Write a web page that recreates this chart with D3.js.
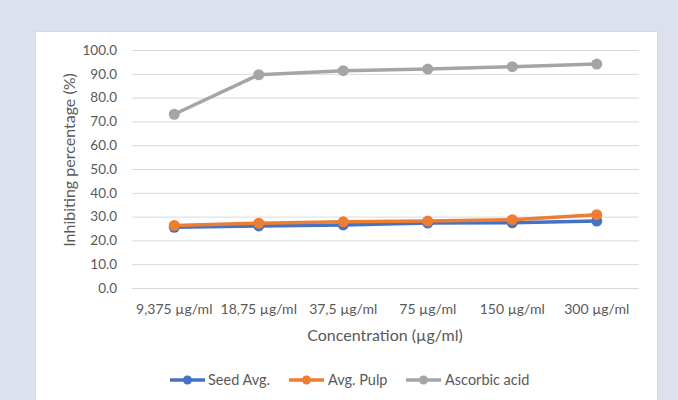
<!DOCTYPE html>
<html>
<head>
<meta charset="utf-8">
<script src="https://cdn.jsdelivr.net/npm/d3@7/dist/d3.min.js"></script>
<style>
  html, body { margin: 0; padding: 0; background: #dde1ee; }
  svg { display: block; font-family: Lato, "Open Sans", sans-serif; }
</style>
</head>
<body>
<svg id="chart" width="678" height="400"></svg>
<script>
// Concentrations tested
const categories = ["9,375 µg/ml", "18,75 µg/ml", "37,5 µg/ml", "75 µg/ml", "150 µg/ml", "300 µg/ml"];
// Inhibiting percentage per series
const seedAvg = [25.5, 26.1, 26.5, 27.3, 27.4, 28.1];
const avgPulp = [26.3, 27.2, 27.8, 28.1, 28.7, 30.8];
const ascorbicAcid = [73.0, 89.6, 91.3, 92.0, 93.0, 94.1];
const yTicks = [0, 10, 20, 30, 40, 50, 60, 70, 80, 90, 100];

const series = [
  { name: "Seed Avg.", values: seedAvg, color: "#4472c4" },
  { name: "Avg. Pulp", values: avgPulp, color: "#ed7d31" },
  { name: "Ascorbic acid", values: ascorbicAcid, color: "#a5a5a5" }
];

const svg = d3.select("#chart");

// White chart area
svg.append("rect")
  .attr("x", 35.5).attr("y", 31.5)
  .attr("width", 622).attr("height", 380)
  .attr("fill", "#ffffff")
  .attr("stroke", "#d9d9d9").attr("stroke-width", 1);

const plot = { left: 132, right: 639, top: 50, bottom: 288 };

const x = d3.scaleBand().domain(categories).range([plot.left, plot.right]);
const y = d3.scaleLinear().domain([0, 100]).range([plot.bottom, plot.top]);

// Gridlines
svg.append("g")
  .selectAll("line")
  .data(yTicks)
  .join("line")
  .attr("x1", plot.left).attr("x2", plot.right)
  .attr("y1", d => y(d) + 0.5).attr("y2", d => y(d) + 0.5)
  .attr("stroke", "#d9d9d9").attr("stroke-width", 1);

// Y axis labels
const yAxis = d3.axisLeft(y).tickValues(yTicks).tickFormat(d3.format(".1f")).tickSize(0).tickPadding(15);
const gy = svg.append("g").attr("transform", `translate(${plot.left},0)`).call(yAxis);
gy.select(".domain").remove();
gy.selectAll("text").attr("fill", "#595959").style("font-size", "13.5px").style("font-family", "Lato, sans-serif");

// X axis labels
const xAxis = d3.axisBottom(x).tickSize(0).tickPadding(16);
const gx = svg.append("g").attr("transform", `translate(0,${plot.bottom})`).call(xAxis);
gx.select(".domain").remove();
gx.selectAll("text").attr("fill", "#595959").style("font-size", "14px").style("font-family", "Lato, sans-serif");

// Axis titles
svg.append("text")
  .attr("x", 385).attr("y", 341)
  .attr("text-anchor", "middle")
  .attr("fill", "#595959").style("font-size", "16px")
  .text("Concentration (µg/ml)");

svg.append("text")
  .attr("transform", "translate(75,160) rotate(-90)")
  .attr("text-anchor", "middle")
  .attr("fill", "#595959").style("font-size", "16px")
  .text("Inhibiting percentage (%)");

// Lines and markers
const cx = c => x(c) + x.bandwidth() / 2;
const line = d3.line().x((d, i) => cx(categories[i])).y(d => y(d));

series.forEach(s => {
  const g = svg.append("g");
  g.append("path")
    .attr("d", line(s.values))
    .attr("fill", "none")
    .attr("stroke", s.color)
    .attr("stroke-width", 3.5)
    .attr("stroke-linejoin", "round");
  g.selectAll("circle")
    .data(s.values)
    .join("circle")
    .attr("cx", (d, i) => cx(categories[i]))
    .attr("cy", d => y(d))
    .attr("r", 5.5)
    .attr("fill", s.color);
});

// Legend
const legendItems = [
  { x: 170, textX: 208 },
  { x: 289, textX: 328 },
  { x: 406, textX: 445 }
];
const legend = svg.append("g");
series.forEach((s, i) => {
  const lx = legendItems[i].x;
  const ly = 380;
  legend.append("line")
    .attr("x1", lx).attr("x2", lx + 35)
    .attr("y1", ly).attr("y2", ly)
    .attr("stroke", s.color).attr("stroke-width", 3.5);
  legend.append("circle")
    .attr("cx", lx + 17.5).attr("cy", ly).attr("r", 4.5)
    .attr("fill", s.color);
  legend.append("text")
    .attr("x", legendItems[i].textX).attr("y", ly)
    .attr("dy", "0.35em")
    .attr("fill", "#595959").style("font-size", "14.5px")
    .text(s.name);
});
</script>
</body>
</html>
